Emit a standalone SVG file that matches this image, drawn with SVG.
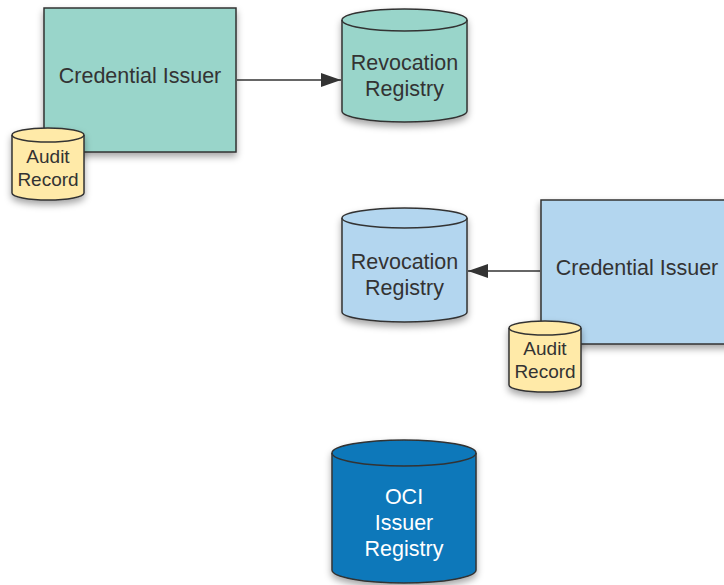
<svg xmlns="http://www.w3.org/2000/svg" width="724" height="585" viewBox="0 0 724 585">
<defs>
<filter id="sh" x="-20%" y="-20%" width="140%" height="150%">
<feDropShadow dx="0" dy="4" stdDeviation="3.5" flood-color="#000" flood-opacity="0.35"/>
</filter>
<marker id="arr" viewBox="0 0 20 14" refX="20" refY="7" markerWidth="20" markerHeight="14" markerUnits="userSpaceOnUse" orient="auto">
<path d="M0,0 L20,7 L0,14 Z" fill="#333"/>
</marker>
<style>
.s{stroke:#333;stroke-width:1.5}
.t{font-family:"Liberation Sans",Arial,sans-serif;font-size:21.5px;fill:#333;text-anchor:middle}
.ts{font-family:"Liberation Sans",Arial,sans-serif;font-size:19px;fill:#333;text-anchor:middle}
.tw{font-family:"Liberation Sans",Arial,sans-serif;font-size:21.5px;fill:#fff;text-anchor:middle}
.teal{fill:#99d5ca}
.lb{fill:#b3d6ef}
.yl{fill:#ffeaa8}
.db{fill:#0f78ba}
.c{stroke:#333;stroke-width:1.5;fill:none}
</style>
</defs>
<g id="connectors">
<line class="c" x1="237" y1="80" x2="341" y2="80" marker-end="url(#arr)"/>
<line class="c" x1="540" y1="271" x2="468" y2="271" marker-end="url(#arr)"/>
</g>
<g id="issuer1">
<rect class="s teal" x="44" y="8" width="192" height="144" filter="url(#sh)"/>
<text class="t" x="140" y="83">Credential Issuer</text>
</g>
<g id="audit1">
<path class="s yl" d="M12,135 A36,7 0 0 1 84,135 L84,193 A36,7 0 0 1 12,193 Z" filter="url(#sh)"/>
<path class="s" fill="none" d="M12,135 A36,7 0 0 0 84,135"/>
<text class="ts" x="48" y="163">Audit</text>
<text class="ts" x="48" y="186">Record</text>
</g>
<g id="revreg1">
<path class="s teal" d="M342,20 A62.5,11 0 0 1 467,20 L467,111 A62.5,11 0 0 1 342,111 Z" filter="url(#sh)"/>
<path class="s" fill="none" d="M342,20 A62.5,11 0 0 0 467,20"/>
<text class="t" x="404.5" y="70">Revocation</text>
<text class="t" x="404.5" y="96">Registry</text>
</g>
<g id="revreg2">
<path class="s lb" d="M342,218 A62.5,10 0 0 1 467,218 L467,312 A62.5,10 0 0 1 342,312 Z" filter="url(#sh)"/>
<path class="s" fill="none" d="M342,218 A62.5,10 0 0 0 467,218"/>
<text class="t" x="404.5" y="269">Revocation</text>
<text class="t" x="404.5" y="295">Registry</text>
</g>
<g id="issuer2">
<rect class="s lb" x="541" y="200" width="192" height="144" filter="url(#sh)"/>
<text class="t" x="637" y="275">Credential Issuer</text>
</g>
<g id="audit2">
<path class="s yl" d="M509,328 A36,7 0 0 1 581,328 L581,385 A36,7 0 0 1 509,385 Z" filter="url(#sh)"/>
<path class="s" fill="none" d="M509,328 A36,7 0 0 0 581,328"/>
<text class="ts" x="545" y="355">Audit</text>
<text class="ts" x="545" y="378">Record</text>
</g>
<g id="oci">
<path class="s db" d="M332,453 A72,13 0 0 1 476,453 L476,570 A72,13 0 0 1 332,570 Z" filter="url(#sh)"/>
<path class="s" fill="none" d="M332,453 A72,13 0 0 0 476,453"/>
<text class="tw" x="404" y="504">OCI</text>
<text class="tw" x="404" y="530">Issuer</text>
<text class="tw" x="404" y="556">Registry</text>
</g>
</svg>
